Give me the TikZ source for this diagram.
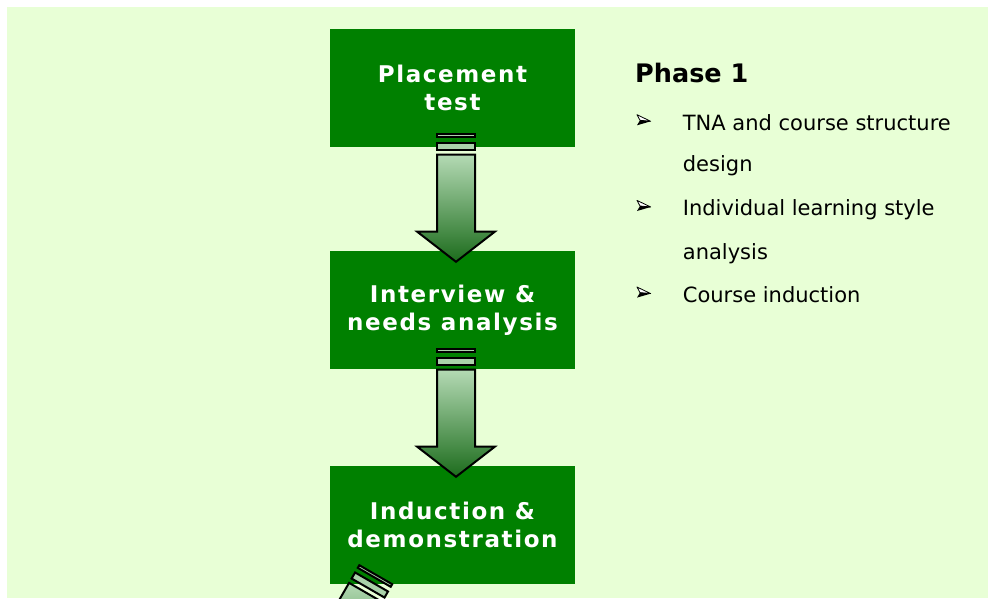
\documentclass[tikz,border=0pt]{standalone}
\usepackage{fontspec}
\setmainfont{DejaVu Sans}
\newfontfamily\spacedfont[LetterSpace=7.0]{DejaVu Sans}
\definecolor{bggreen}{RGB}{232,255,214}
\definecolor{boxgreen}{RGB}{0,128,0}
\definecolor{arrowlight}{RGB}{180,218,180}
\definecolor{arrowdark}{RGB}{28,108,28}
\definecolor{barfill}{RGB}{170,210,170}
\tikzset{
  stepbox/.style={fill=boxgreen, draw=none, minimum width=245pt, minimum height=118pt,
    inner sep=0pt, text=white, align=center,
    font=\spacedfont\bfseries\fontsize{23}{28.4}\selectfont},
  barstyle/.style={draw=black, line width=2pt, fill=barfill, line join=miter},
  arrowbody/.style={draw=black, line width=2pt, top color=arrowlight, bottom color=arrowdark, line join=miter},
  listtext/.style={anchor=base west, inner sep=0pt, font=\fontsize{21}{25}\selectfont},
  flowarrow/.pic={
    \draw[barstyle] (-19,-1.5) rectangle (19,1.5);
    \draw[barstyle] (-19,6.9) rectangle (19,13.9);
    \draw[arrowbody] (-19,18.9) -- (19,18.9) -- (19,95.9) -- (38.8,95.9) -- (0,126)
      -- (-38.8,95.9) -- (-19,95.9) -- cycle;
  },
  listbullet/.pic={
    \filldraw[fill=white, draw=black, line width=0.8pt, line join=round]
      (0,-15.3) -- (13.7,-8.7) -- (3,-9.7) -- cycle;
    \fill[black] (3,-9.7) -- (13.7,-8.7) -- (0,-4.7) -- cycle;
  }
}
\begin{document}
\begin{tikzpicture}[x=1pt,y=-1pt]
\useasboundingbox (0,0) rectangle (989,598);
\clip (0,0) rectangle (989,598);
\fill[bggreen] (7,7) rectangle (988,598);

\node[stepbox] (b1) at (452.5,88) {Placement\\test};
\node[stepbox] (b2) at (452.5,310) {Interview \&\\needs analysis};
\node[stepbox] (b3) at (452.5,525) {Induction \&\\demonstration};

\pic at (456,135.8) {flowarrow};
\pic at (456,350.8) {flowarrow};
\pic[rotate=-30] at (375,576) {flowarrow};

\node[anchor=base west, inner sep=0pt, font=\bfseries\fontsize{25.5}{30}\selectfont] (ph) at (635,82.3) {Phase 1};

\pic at (637,130) {listbullet};
\node[listtext] (l1) at (682.7,130) {TNA and course structure};
\node[listtext] (l1b) at (682.7,171.7) {design};
\pic at (637,215.7) {listbullet};
\node[listtext] (l2) at (682.7,215.7) {Individual learning style};
\node[listtext] (l2b) at (682.7,259.3) {analysis};
\pic at (637,302.3) {listbullet};
\node[listtext] (l3) at (682.7,302.3) {Course induction};
\end{tikzpicture}
\end{document}
